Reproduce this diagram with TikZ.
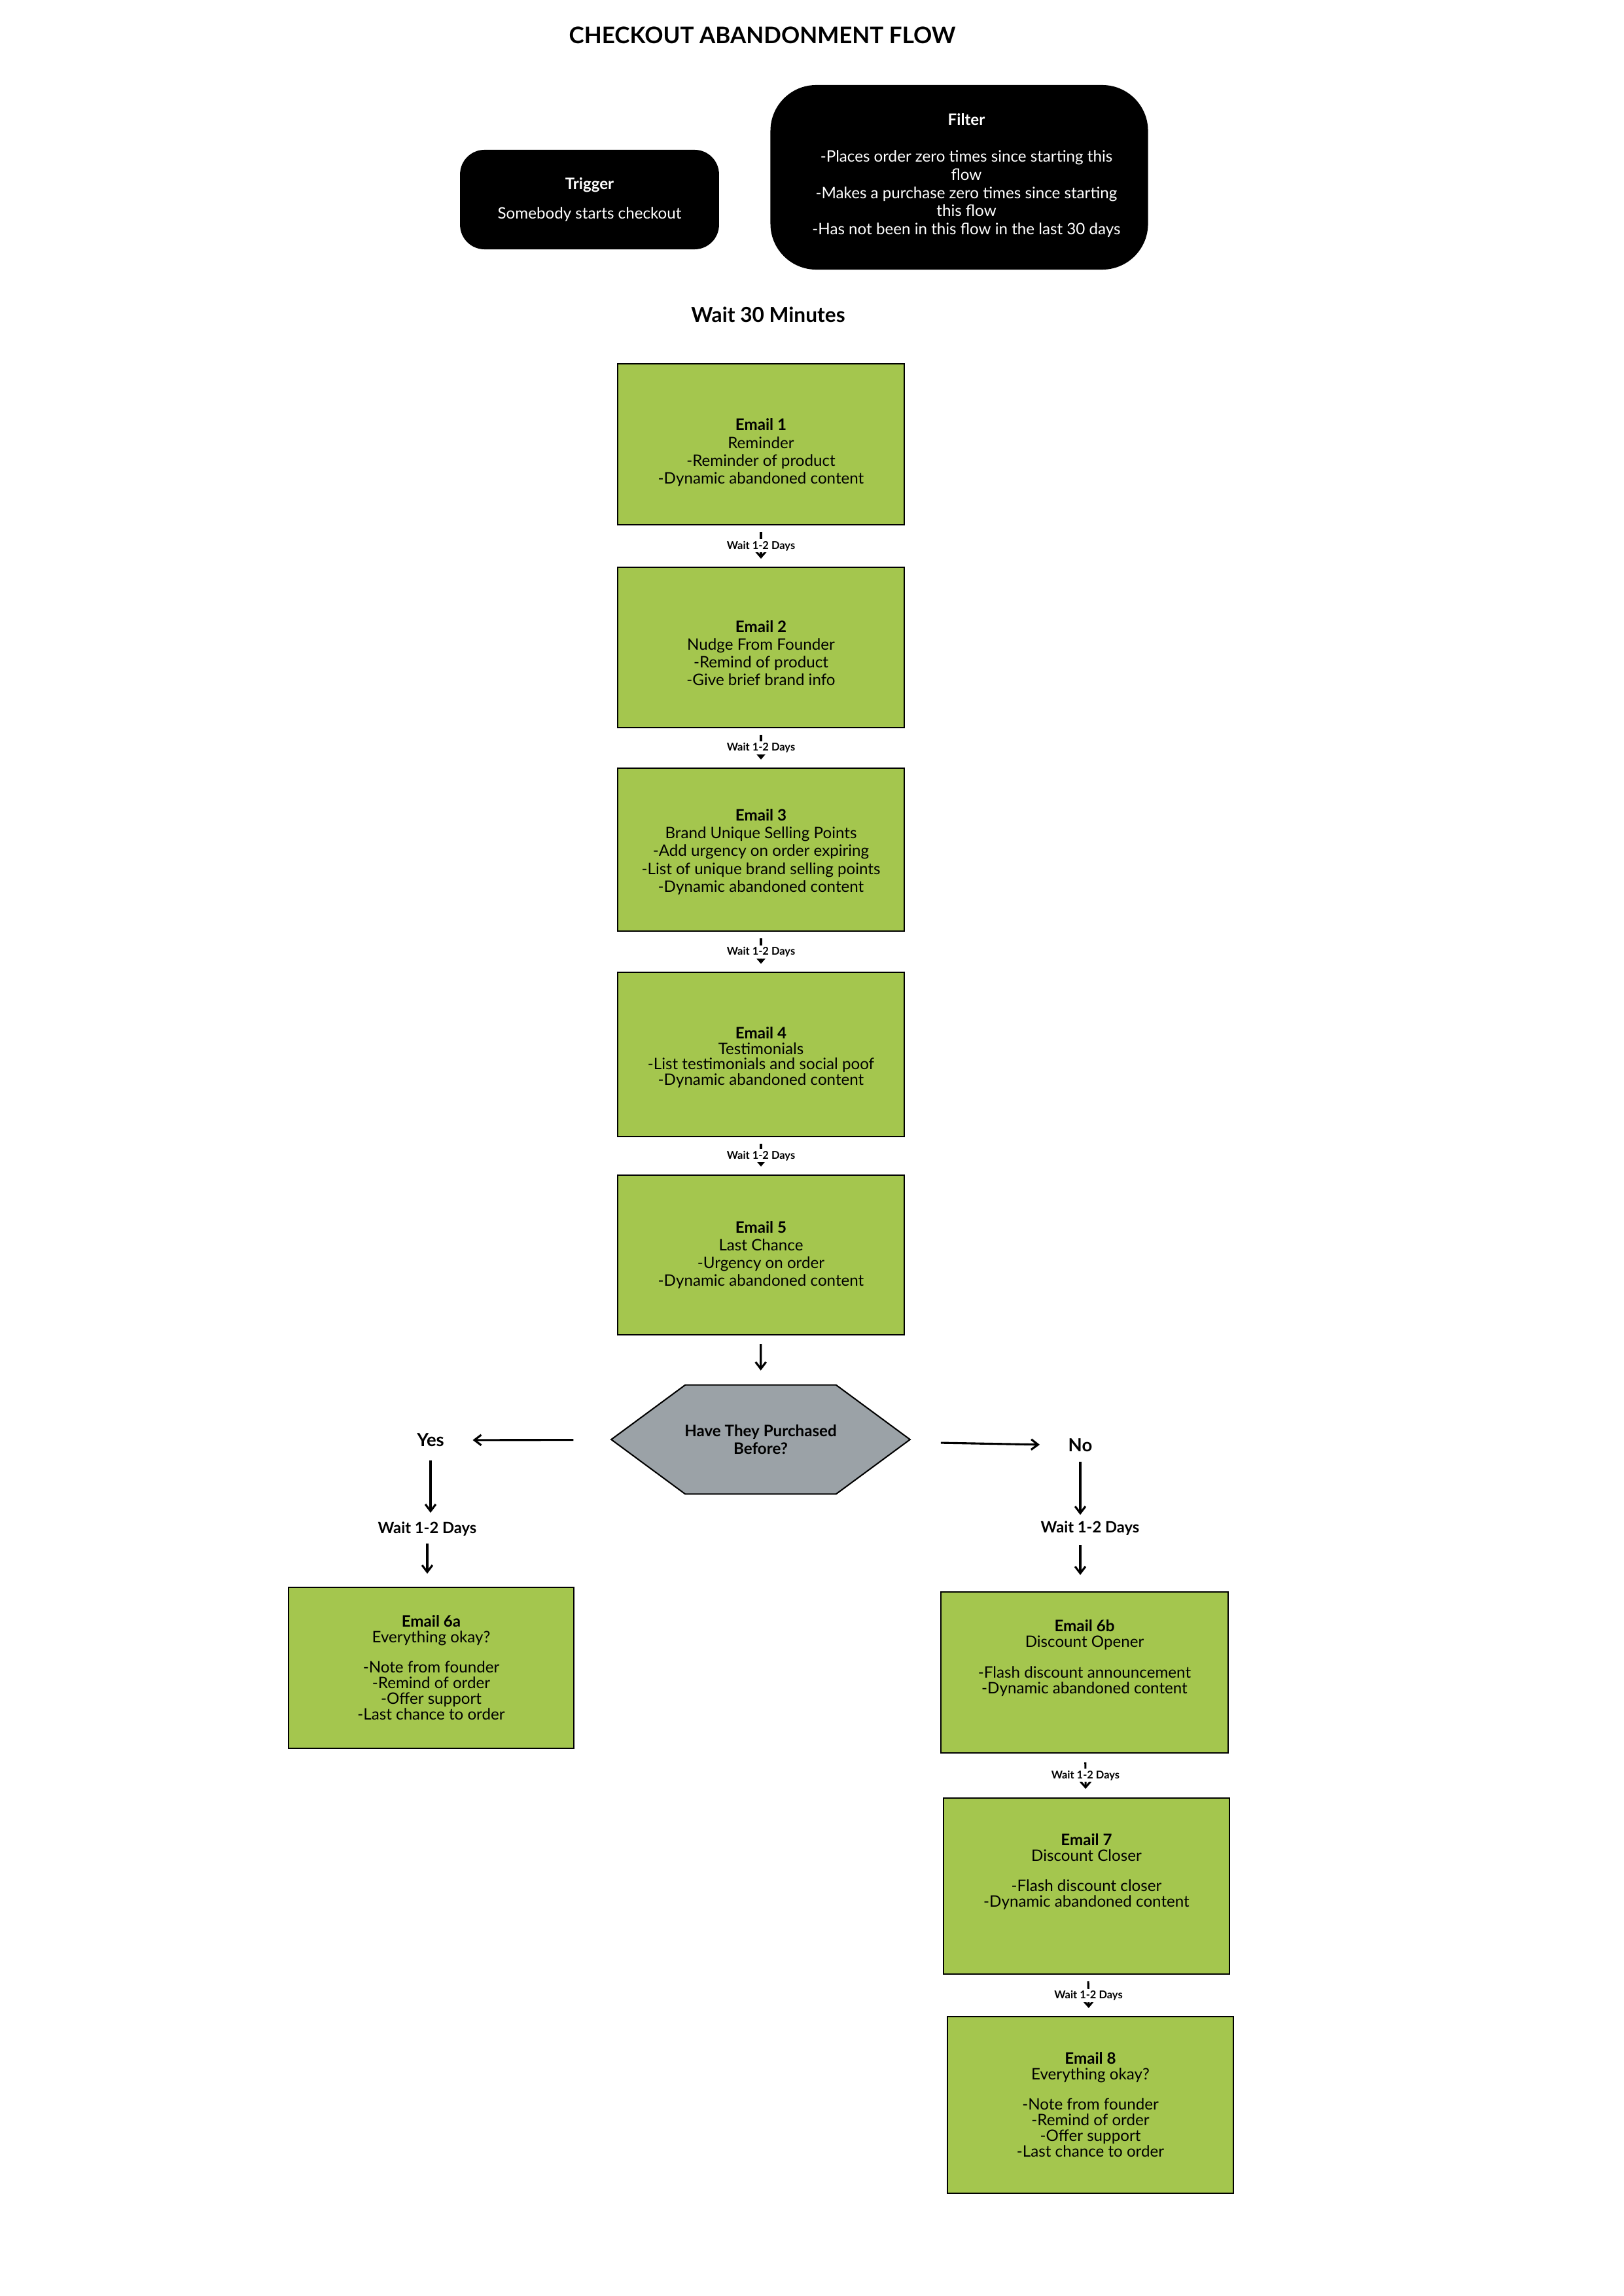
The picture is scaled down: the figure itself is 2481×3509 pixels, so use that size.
\documentclass[tikz,border=0pt]{standalone}
\usepackage{fontspec}
\setmainfont{Lato}
\usetikzlibrary{arrows.meta,calc,backgrounds}
\definecolor{mailgreen}{HTML}{A4C64E}
\definecolor{hexgrey}{HTML}{9BA2A7}
\begin{document}
\begin{tikzpicture}[x=0.24pt,y=-0.24pt,
  mail/.style={draw=black, line width=0.5pt, fill=mailgreen, inner sep=0pt, align=center,
    minimum width=105pt, minimum height=59pt},
  txta/.style={font=\fontsize{5.8}{6.5}\selectfont},
  txtb/.style={font=\fontsize{5.8}{5.76}\selectfont},
  blackbox/.style={fill=black, text=white, inner sep=0pt, align=center,
    font=\fontsize{5.8}{6.5}\selectfont},
  small/.style={line width=0.75pt, -{Straight Barb[length=2.2pt,width=3.8pt]},
    shorten <=2.4pt, shorten >=2.9pt},
  big/.style={line width=0.75pt, -{Straight Barb[length=2.5pt,width=3.8pt]}},
  wlab/.style={fill=white, inner sep=0.6pt, font=\fontsize{3.95}{4}\selectfont\bfseries},
  branch/.style={inner sep=0pt, font=\fontsize{6.6}{7}\selectfont\bfseries},
  bwait/.style={inner sep=0pt, font=\fontsize{5.7}{6}\selectfont\bfseries},
  hexs/.style={draw=black, line width=0.5pt, fill=hexgrey}
]
\useasboundingbox (0,0) rectangle (2481,3509);
\begin{scope}[on background layer]
\fill[white] (0,0) rectangle (2481,3509);
\end{scope}

% title and header
\node (title) at (1165,54) {\fontsize{8.4}{10}\selectfont\bfseries CHECKOUT ABANDONMENT FLOW};
\node[blackbox, rounded corners=9pt, minimum width=95pt, minimum height=36.5pt]
  (trigger) at (901,305) {\textbf{Trigger}\\[4.3pt] Somebody starts checkout};
\node[blackbox, rounded corners=16.8pt, minimum width=138.5pt, minimum height=67.7pt]
  (filter) at (1466,271) {};
\node[blackbox, fill=none, font=\fontsize{5.8}{6.65}\selectfont] (filtertxt) at (1477,268)
  {\textbf{Filter}\\[6.9pt]
  -Places order zero times since starting this\\ flow\\
  -Makes a purchase zero times since starting\\ this flow\\
  -Has not been in this flow in the last 30 days};
\node (w30) at (1174,481) {\fontsize{7.6}{8}\selectfont\bfseries Wait 30 Minutes};

% main column
\node[mail, txta] (e1) at (1163,679)
  {\rule{0pt}{10.4pt}\textbf{Email 1}\\ Reminder\\ -Reminder of product\\ -Dynamic abandoned content};
\node[mail, txta, minimum height=58.8pt] (e2) at (1163,989.5)
  {\rule{0pt}{8.6pt}\textbf{Email 2}\\ Nudge From Founder\\ -Remind of product\\ -Give brief brand info};
\node[mail, txta, minimum height=59.8pt] (e3) at (1163,1298.5)
  {\rule{0pt}{6pt}\textbf{Email 3}\\ Brand Unique Selling Points\\ -Add urgency on order expiring\\
   -List of unique brand selling points\\ -Dynamic abandoned content};
\node[mail, font=\fontsize{5.8}{5.7}\selectfont, minimum height=60.2pt] (e4) at (1163,1611.5)
  {\rule{0pt}{6.5pt}\textbf{Email 4}\\ Testimonials\\ -List testimonials and social poof\\ -Dynamic abandoned content};
\node[mail, txta, minimum height=58.6pt] (e5) at (1163,1918)
  {\textbf{Email 5}\\ Last Chance\\ -Urgency on order\\ -Dynamic abandoned content};

\draw[small] (e1) -- (e2) node[wlab, midway] (l12) {Wait 1-2 Days};
\draw[small] (e2) -- (e3) node[wlab, midway] (l23) {Wait 1-2 Days};
\draw[small] (e3) -- (e4) node[wlab, midway] (l34) {Wait 1-2 Days};
\draw[small] (e4) -- (e5) node[wlab, midway] (l45) {Wait 1-2 Days};

% decision
\node[inner sep=0pt, minimum width=109.2pt, minimum height=39.6pt, align=center,
  font=\fontsize{5.8}{6.5}\selectfont\bfseries] (q) at (1162.5,2200)
  {Have They Purchased\\ Before?};
\begin{scope}[on background layer]
\draw[hexs] (q.west) -- ($(q.north west)+(113,0)$) -- ($(q.north east)+(-113,0)$)
  -- (q.east) -- ($(q.south east)+(-113,0)$) -- ($(q.south west)+(113,0)$) -- cycle;
\end{scope}
\draw[big, shorten <=3.1pt, shorten >=5.3pt] (e5) -- (q);

% yes branch
\node[branch] (yes) at (658,2201) {Yes};
\node[bwait] (wy) at (653,2337) {Wait 1-2 Days};
\node[mail, txtb, minimum width=104.6pt] (e6a) at (659,2549)
  {\textbf{Email 6a}\\ Everything okay?\\[5.3pt] -Note from founder\\ -Remind of order\\
   -Offer support\\ -Last chance to order};
\draw[big, shorten <=13.9pt, shorten >=10.3pt] (q) -- (yes);
\draw[big, shorten <=7.4pt, shorten >=6pt] (yes.center) -- (yes.center |- wy.center);
\draw[big, shorten <=5.3pt, shorten >=4.8pt] (wy.center) -- (wy.center |- e6a.north);

% no branch
\node[branch] (no) at (1651,2209) {No};
\node[bwait] (wn) at (1666,2336) {Wait 1-2 Days};
\node[mail, txtb, minimum width=105.4pt] (e6b) at (1657.5,2556)
  {\textbf{Email 6b}\\ Discount Opener\\[5.3pt] -Flash discount announcement\\
   -Dynamic abandoned content\\~\\~};
\node[mail, txtb, minimum width=104.9pt, minimum height=64.6pt] (e7) at (1660.5,2882.5)
  {\textbf{Email 7}\\ Discount Closer\\[5.3pt] -Flash discount closer\\
   -Dynamic abandoned content\\~\\~};
\node[mail, txtb, minimum width=104.9pt, minimum height=64.8pt] (e8) at (1666.5,3217)
  {\textbf{Email 8}\\ Everything okay?\\[5.3pt] -Note from founder\\ -Remind of order\\
   -Offer support\\ -Last chance to order};
\draw[big, shorten <=11.3pt, shorten >=10.3pt] (q) -- (no);
\draw[big, shorten <=6pt, shorten >=5pt] (no.center) -- (no.center |- wn.center);
\draw[big, shorten <=6pt, shorten >=6pt] (no.center |- wn.center) -- (no.center |- e6b.north);
\draw[small, shorten <=3.2pt, shorten >=3.1pt] (e6b) -- (e7) node[wlab, midway] (l67) {Wait 1-2 Days};
\draw[small] (e7) -- (e8) node[wlab, midway] (l78) {Wait 1-2 Days};
\end{tikzpicture}
\end{document}
